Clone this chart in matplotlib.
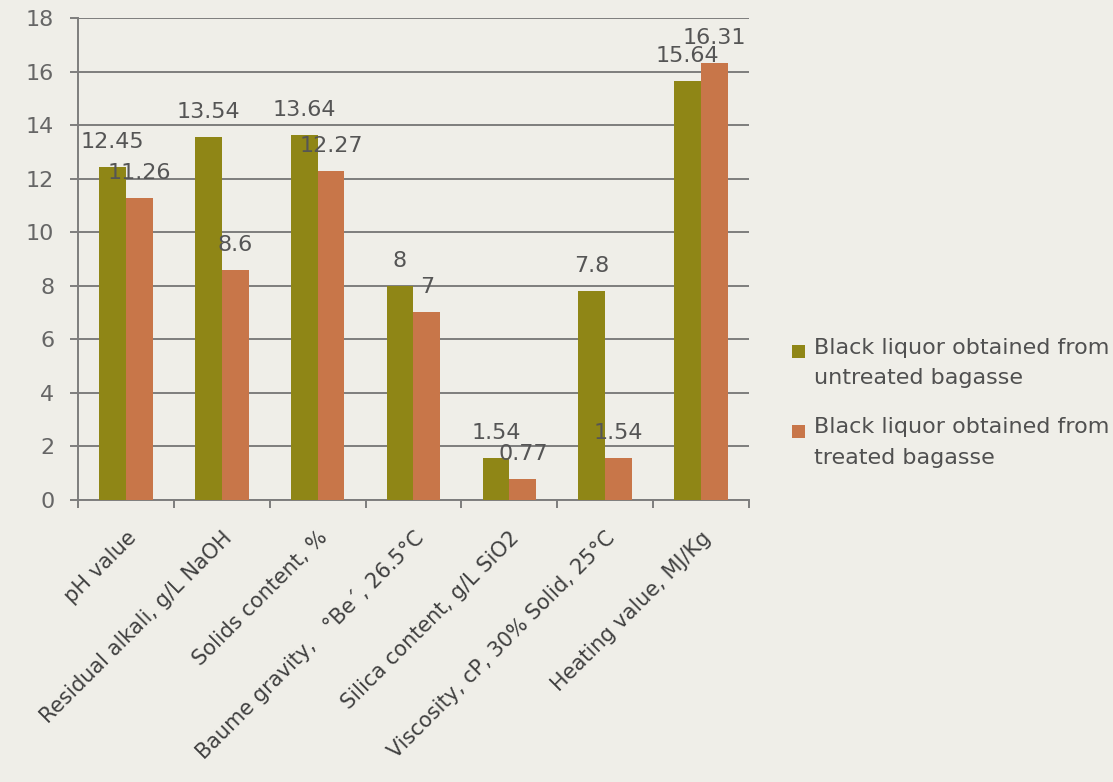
import matplotlib.pyplot as plt
from matplotlib.patches import Rectangle
from matplotlib.legend_handler import HandlerPatch
import numpy as np

# data
categories = ['pH value', 'Residual alkali, g/L NaOH', 'Solids content, %',
              'Baume gravity,   \u00b0Be\u00b4, 26.5\u00b0C', 'Silica content, g/L SiO2',
              'Viscosity, cP, 30% Solid, 25\u00b0C', 'Heating value, MJ/Kg']
untreated = [12.45, 13.54, 13.64, 8, 1.54, 7.8, 15.64]
treated = [11.26, 8.6, 12.27, 7, 0.77, 1.54, 16.31]
untreated_lbl = ['12.45', '13.54', '13.64', '8', '1.54', '7.8', '15.64']
treated_lbl = ['11.26', '8.6', '12.27', '7', '0.77', '1.54', '16.31']
series_names = ['Black liquor obtained from\nuntreated bagasse',
                'Black liquor obtained from\ntreated bagasse']

olive = '#8f8616'
orange = '#c87649'
grid_c = '#7d7d7d'
text_c = '#555555'
bg = '#efeee8'

plt.rcParams['font.family'] = ['DejaVu Sans']


def top_square(legend, orig_handle, xdescent, ydescent, width, height, fontsize):
    # small square level with the first line of a two-line label
    s = 0.58 * fontsize
    return Rectangle((-xdescent, -ydescent + height - s - 0.05 * fontsize), s, s)


fig = plt.figure(figsize=(11.13, 7.82), dpi=100, facecolor=bg)
ax = fig.add_axes([0.070, 0.361, 0.603, 0.616])
ax.set_facecolor('none')

x = np.arange(len(categories))
w = 0.28
b1 = ax.bar(x - w / 2, untreated, w, color=olive, label=series_names[0], zorder=3)
b2 = ax.bar(x + w / 2, treated, w, color=orange, label=series_names[1], zorder=3)

for bars, lbls in ((b1, untreated_lbl), (b2, treated_lbl)):
    for r, t in zip(bars, lbls):
        ax.annotate(t, (r.get_x() + r.get_width() / 2, r.get_height()),
                    xytext=(0, 18), textcoords='offset points',
                    ha='center', va='center', fontsize=16, color=text_c, zorder=4)

ax.set_xlim(-0.5, len(categories) - 0.5)
ax.set_ylim(0, 18)
ax.set_yticks(np.arange(0, 19, 2))
ax.yaxis.grid(True, color=grid_c, linewidth=1.4, zorder=1)
ax.set_axisbelow(True)

for s in ['top', 'right']:
    ax.spines[s].set_visible(False)
for s in ['left', 'bottom']:
    ax.spines[s].set_color(grid_c)
    ax.spines[s].set_linewidth(1.4)

# category ticks sit between groups
ax.set_xticks(np.arange(-0.5, len(categories), 1.0), minor=False)
ax.set_xticklabels([])
ax.set_xticks(x, minor=True)
ax.set_xticklabels(categories, minor=True, rotation=45, ha='right',
                   rotation_mode='anchor', fontsize=15, color='#404040')
ax.tick_params(axis='x', which='major', length=6, width=1.4, color=grid_c)
ax.tick_params(axis='x', which='minor', length=0, pad=20)
ax.tick_params(axis='y', length=6, width=1.4, color=grid_c, labelsize=16,
               labelcolor='#666666', pad=11)

h1, h2 = b1.patches[0], b2.patches[0]
leg = fig.legend(handles=[h1, h2], labels=series_names, loc='upper left',
                 bbox_to_anchor=(792 / 1113, 1 - 338 / 782), frameon=False,
                 fontsize=16, handlelength=0.58, handleheight=2.4,
                 handletextpad=0.4, labelspacing=1.3, borderpad=0,
                 borderaxespad=0, labelcolor='#505050',
                 handler_map={h1: HandlerPatch(patch_func=top_square),
                              h2: HandlerPatch(patch_func=top_square)})
for t in leg.get_texts():
    t.set_linespacing(1.65)

fig.savefig('out.png', dpi=100, facecolor=bg)
